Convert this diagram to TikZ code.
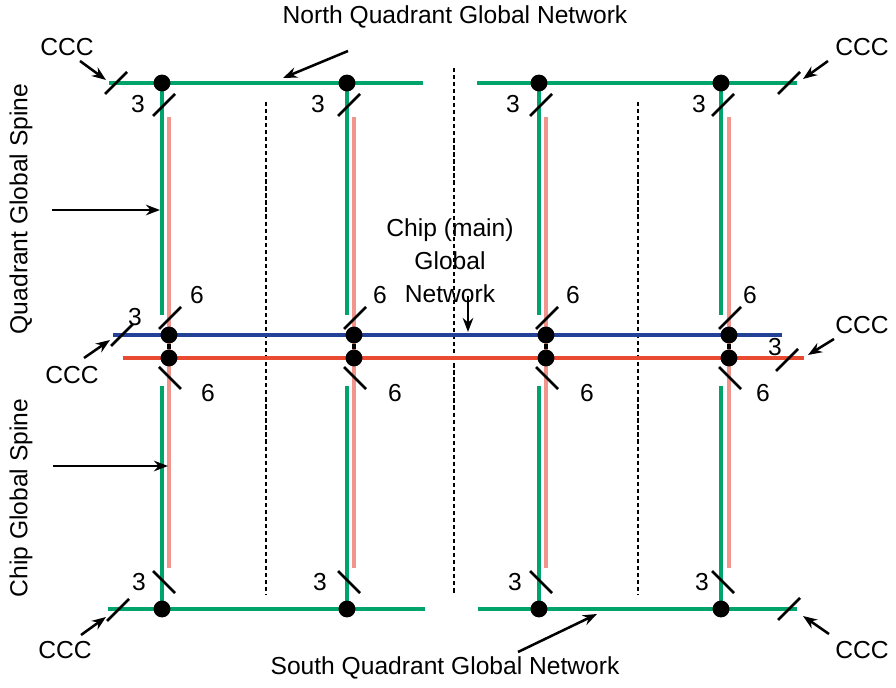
\documentclass[tikz,border=0pt]{standalone}
\usepackage{fontspec}
\setmainfont{Liberation Sans}
\usetikzlibrary{arrows.meta}
\definecolor{netgreen}{RGB}{0,163,105}
\definecolor{spinepink}{RGB}{240,150,140}
\definecolor{netblue}{RGB}{35,65,150}
\definecolor{netred}{RGB}{232,75,50}

\begin{document}
\begin{tikzpicture}[x=0.025cm,y=-0.025cm]
  \tikzstyle{dot}=[circle,fill=black,minimum size=12pt,inner sep=0pt]
  \tikzstyle{lbl}=[font=\fontsize{17.5}{23.5}\selectfont,inner sep=0pt]
  \tikzstyle{gline}=[draw=netgreen,line width=2.4pt]
  \tikzstyle{pline}=[draw=spinepink,line width=2.4pt]
  \tikzstyle{arr}=[-{Stealth[length=10pt,width=7.5pt]},line width=1.8pt]
  \tikzstyle{sep}=[line width=0.8pt,dash pattern=on 3pt off 2pt]
  \tikzset{fwdtick/.pic={\draw[line width=2pt] (-11,11) -- (11,-11);},
           bwdtick/.pic={\draw[line width=2pt] (-11,-11) -- (11,11);}}
  \useasboundingbox (0,0) rectangle (896,688);

  % end points of the nets and arrows
  \foreach \name/\x/\y in {nw/109/83, nm/423/83, nm2/477/83, ne/797/83,
      sw/108/609, sm/425/609, sm2/478/609, se/797/609,
      bw/113/335, be/782/335, rw/123/358, re/804/358,
      nq-t/348/51, nq-h/283/78, sq-t/518/652, sq-h/597/614,
      cm-t/468/296, cm-h/468/332, qs-t/52/210, qs-h/160/210,
      cs-t/53/466, cs-h/168/466,
      c1-t/80/61, c1-h/106/80, c2-t/828/61, c2-h/803/79,
      c3-t/84/358, c3-h/110/340, c4-t/834/339, c4-h/808/355,
      c5-t/81/635, c5-h/106/617, c6-t/829/634, c6-h/803/616}
    \coordinate (\name) at (\x,\y);

  % quadrant separators
  \draw[sep] (266,102) -- (266,595);
  \draw[sep] (454,68) -- (454,593);
  \draw[sep] (638,102) -- (638,595);

  % spines
  \foreach \i/\g/\p in {1/162/169, 2/347/354, 3/539/546, 4/721/729} {
    \coordinate (t\i) at (\g,83);
    \coordinate (d\i) at (\g,609);
    \draw[pline] (\p,117) -- (\p,568);
    \draw[gline] (t\i) -- (\g,315);
    \draw[gline] (\g,386) -- (d\i);
  }

  % nets
  \draw[gline] (nw) -- (nm);
  \draw[gline] (nm2) -- (ne);
  \draw[gline] (sw) -- (sm);
  \draw[gline] (sm2) -- (se);
  \draw[draw=netblue,line width=2.4pt] (bw) -- (be);
  \draw[draw=netred,line width=2.4pt] (rw) -- (re);

  % taps
  \foreach \i/\g/\p/\a/\b/\c/\d in {1/162/169/138/197/208/139, 2/347/354/318/380/395/320,
      3/539/546/513/573/587/515, 4/721/729/699/750/763/702} {
    \node[dot] (T-\i) at (\g,83) {};
    \node[dot] (B-\i) at (\p,335) {};
    \node[dot] (R-\i) at (\p,358) {};
    \node[dot] (S-\i) at (\g,609) {};
    \draw[line width=2.4pt] (B-\i) -- (R-\i);
    \pic at (\g+2,105) {fwdtick};
    \pic at (\p+1,318) {fwdtick};
    \pic at (\p+1,378) {bwdtick};
    \pic at (\g+2,582) {bwdtick};
    \node[lbl] (n3-\i) at (\a,104) {3};
    \node[lbl] (m6-\i) at (\b,295) {6};
    \node[lbl] (r6-\i) at (\c,393) {6};
    \node[lbl] (s3-\i) at (\d,582) {3};
  }

  % external ends
  \pic at (116,83) {fwdtick};
  \pic at (789,83) {fwdtick};
  \pic at (122,335) {fwdtick};
  \pic at (787,360) {fwdtick};
  \pic at (118,610) {fwdtick};
  \pic at (789,609) {fwdtick};
  \node[lbl] (x3-l) at (135,317) {3};
  \node[lbl] (x3-r) at (775,347) {3};

  % labels
  \node[lbl] (north) at (455,17) {North Quadrant Global Network};
  \node[lbl] (south) at (445,668) {South Quadrant Global Network};
  \node[lbl,align=center] (chip) at (450,261) {Chip (main)\\Global\\Network};
  \node[lbl,rotate=90] (qspine) at (21,209) {Quadrant Global Spine};
  \node[lbl,rotate=90] (cspine) at (21,498) {Chip Global Spine};
  \foreach \n/\x/\y in {1/67/47, 2/862/47, 3/72/375, 4/862/325, 5/65/650, 6/862/650}
    \node[lbl] (ccc-\n) at (\x,\y) {CCC};

  \foreach \a in {nq,sq,cm,qs,cs,c1,c2,c3,c4,c5,c6}
    { \draw[arr] (\a-t) -- (\a-h); }
\end{tikzpicture}
\end{document}
